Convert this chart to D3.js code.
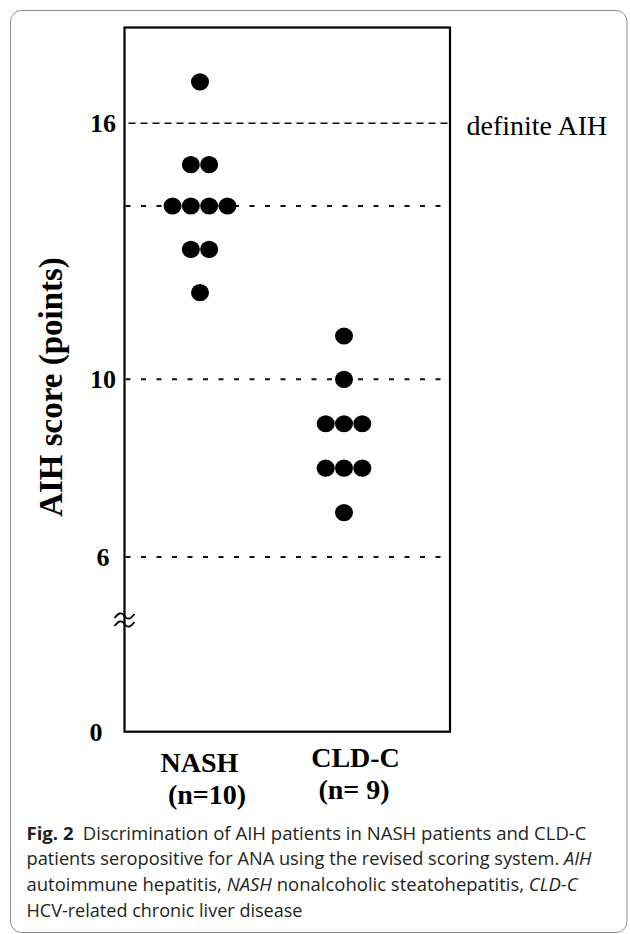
<!DOCTYPE html>
<html>
<head>
<meta charset="utf-8">
<script src="https://cdn.jsdelivr.net/npm/d3@7"></script>
<style>
  html, body { margin: 0; padding: 0; background: #fff; }
  svg { display: block; }
</style>
</head>
<body>
<svg id="chart" width="630" height="934"></svg>
<script>
// ---------- data ----------
const categories = ["NASH", "CLD-C"];
const groupLabels = ["(n=10)", "(n= 9)"];
const nashScores = [17, 15, 15, 14, 14, 14, 14, 13, 13, 12];
const cldcScores = [11, 10, 9, 9, 9, 8, 8, 8, 7];
const yTicks = [0, 6, 10, 16];
const refLines = [16, 14, 10, 6];
const refLabel = "definite AIH";
const yTitle = "AIH score (points)";
const captionLines = [
  [{t: "Fig. 2", b: true}, {t: "\u2002Discrimination of AIH patients in NASH patients and CLD-C"}],
  [{t: "patients seropositive for ANA using the revised scoring system. "}, {t: "AIH", i: true}],
  [{t: "autoimmune hepatitis, "}, {t: "NASH", i: true}, {t: " nonalcoholic steatohepatitis, "}, {t: "CLD-C", i: true}],
  [{t: "HCV-related chronic liver disease"}]
];

// ---------- layout ----------
const svg = d3.select("#chart");
const serif = "'Liberation Serif', 'Times New Roman', Times, serif";
const box = {left: 124.5, right: 450, top: 27.5, bottom: 731.7};

// broken (piecewise) y scale
const y = d3.scaleLinear()
  .domain([0, 6, 10, 14, 16])
  .range([box.bottom, 557, 379.3, 206, 123.3]);

const x = d3.scalePoint().domain(categories).range([200, 344]);

// outer frame
svg.append("rect")
  .attr("x", 10.5).attr("y", 10.5)
  .attr("width", 616.5).attr("height", 922)
  .attr("rx", 11).attr("ry", 11)
  .attr("fill", "none").attr("stroke", "#8c8c8c").attr("stroke-width", 1);

// reference lines
svg.append("g").selectAll("line")
  .data(refLines).join("line")
  .attr("x1", d => d === 16 ? box.left + 4 : box.left + 1)
  .attr("x2", box.right)
  .attr("y1", d => y(d)).attr("y2", d => y(d))
  .attr("stroke", "#111")
  .attr("stroke-width", d => d === 16 ? 1.6 : 2)
  .attr("stroke-dasharray", d => d === 16 ? "7,5" : "5,10.5");

// plot box
svg.append("rect")
  .attr("x", box.left).attr("y", box.top)
  .attr("width", box.right - box.left).attr("height", box.bottom - box.top)
  .attr("fill", "none").attr("stroke", "#000").attr("stroke-width", 2.2);

// axis break symbol (≈ on the y axis)
const brk = svg.append("g").attr("transform", `translate(${box.left},620)`);
const wave = d3.line().curve(d3.curveBasis);
[-4, 4].forEach(dy => {
  brk.append("path")
    .attr("d", wave([[-10, dy + 2], [-5, dy - 4], [0, dy - 1], [0, dy + 1], [5, dy + 4], [10, dy - 2]]))
    .attr("fill", "none").attr("stroke", "#000").attr("stroke-width", 1.9);
});

// y tick labels
svg.append("g").selectAll("text")
  .data(yTicks).join("text")
  .attr("x", d => d === 0 ? 96 : 103)
  .attr("y", d => y(d) + 9)
  .attr("text-anchor", "middle")
  .attr("font-family", serif).attr("font-weight", "bold").attr("font-size", 26)
  .attr("fill", "#000")
  .text(d => d);

// y title
svg.append("text")
  .attr("transform", "translate(62,387) rotate(-90)")
  .attr("text-anchor", "middle")
  .attr("font-family", serif).attr("font-weight", "bold").attr("font-size", 33)
  .attr("fill", "#000")
  .text(yTitle);

// reference label
svg.append("text")
  .attr("x", 466.5).attr("y", y(16) + 12)
  .attr("font-family", serif).attr("font-size", 28)
  .attr("fill", "#000")
  .text(refLabel);

// dots: arrange rows of equal scores side by side
const spacing = 18.3;
function layout(cat, scores) {
  const counts = d3.rollup(scores, v => v.length, d => d);
  const seen = new Map();
  return scores.map(s => {
    const n = counts.get(s);
    const i = seen.get(s) || 0;
    seen.set(s, i + 1);
    return {cat, score: s, off: (i - (n - 1) / 2) * spacing};
  });
}
const points = [...layout("NASH", nashScores), ...layout("CLD-C", cldcScores)];
svg.append("g").selectAll("ellipse")
  .data(points).join("ellipse")
  .attr("cx", d => x(d.cat) + d.off)
  .attr("cy", d => y(d.score))
  .attr("rx", 9).attr("ry", 8.6)
  .attr("fill", "#000");

// category labels
const catG = svg.append("g")
  .attr("font-family", serif).attr("font-weight", "bold").attr("font-size", 28)
  .attr("text-anchor", "middle").attr("fill", "#000");
catG.selectAll("text.cat")
  .data(categories).join("text").attr("class", "cat")
  .attr("x", (d, i) => x(d) + (i === 0 ? -0.5 : 11.5))
  .attr("y", (d, i) => i === 0 ? 771.5 : 766.5)
  .text(d => d);
catG.selectAll("text.n")
  .data(groupLabels).join("text").attr("class", "n")
  .attr("x", (d, i) => x(categories[i]) + (i === 0 ? 7 : 10))
  .attr("y", (d, i) => i === 0 ? 804 : 799)
  .text(d => d);

// caption
const capWidths = [560, 565, 551, 276];
const cap = svg.append("g")
  .attr("font-family", "'Open Sans', 'Noto Sans', sans-serif")
  .attr("font-size", 17.5).attr("fill", "#231f20");
captionLines.forEach((parts, li) => {
  const t = cap.append("text")
    .attr("x", 26.5).attr("y", 839.5 + li * 25.8)
    .attr("textLength", capWidths[li])
    .attr("lengthAdjust", "spacingAndGlyphs");
  parts.forEach(p => {
    t.append("tspan")
      .attr("font-weight", p.b ? "bold" : null)
      .attr("font-style", p.i ? "italic" : null)
      .text(p.t);
  });
});
</script>
</body>
</html>
